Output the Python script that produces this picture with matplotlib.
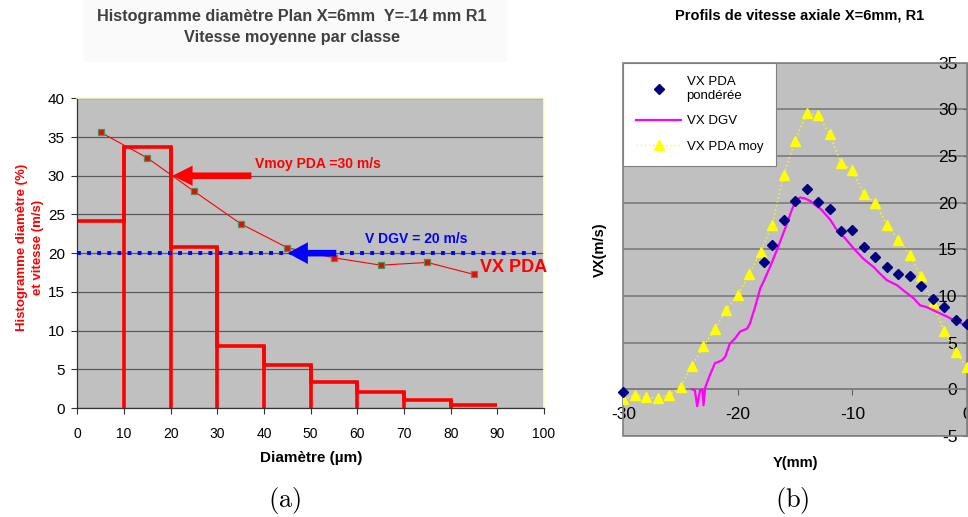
import matplotlib
matplotlib.use("Agg")
import matplotlib.pyplot as plt
from matplotlib.lines import Line2D
from matplotlib.patches import Rectangle

plt.rcParams['font.family'] = ['Liberation Sans', 'DejaVu Sans']
plt.rcParams['mathtext.fontset'] = 'cm'
plt.rcParams['axes.unicode_minus'] = False

# ---- (a) histogram of diameters + mean velocity per class
bin_edges = [0, 10, 20, 30, 40, 50, 60, 70, 80, 90]
hist_pct = [24.2, 33.7, 20.8, 8.0, 5.6, 3.4, 2.1, 1.0, 0.4]
class_centers = [5, 15, 25, 35, 45, 55, 65, 75, 85]
vx_pda_class = [35.6, 32.3, 28.0, 23.8, 20.7, 19.4, 18.45, 18.8, 17.25]
v_dgv_mean = 20
vmoy_pda = 30

# ---- (b) axial velocity profiles
y_pda_pond = [-30, -17.7, -17, -16, -15, -14, -13, -12, -11, -10, -9, -8, -7,
              -6, -5, -4, -3, -2, -1, 0]
vx_pda_pond = [-0.3, 13.6, 15.5, 18.1, 20.2, 21.5, 20.1, 19.3, 17.0, 17.1,
               15.2, 14.2, 13.1, 12.4, 12.1, 11.1, 9.7, 8.8, 7.45, 7.0]
y_pda_moy = [-30, -29, -28, -27, -26, -25, -24, -23, -22, -21, -20, -19, -18,
             -17, -16, -15, -14, -13, -12, -11, -10, -9, -8, -7, -6, -5, -4,
             -3, -2, -1, 0]
vx_pda_moy = [-1.05, -0.6, -0.85, -0.95, -0.6, 0.25, 2.55, 4.6, 6.5, 8.55,
              10.1, 12.35, 14.75, 17.65, 23.0, 26.6, 29.6, 29.4, 27.4, 24.2,
              23.5, 20.9, 20.0, 17.65, 16.05, 14.4, 12.1, 9.2, 6.3, 4.05, 2.35]
y_dgv = [-24.0, -23.75, -23.55, -23.3, -23.1, -23.0, -22.85, -22.45, -22.0,
         -21.4, -21.1, -20.7, -20.25, -19.8, -19.2, -18.95, -18.5, -18.05,
         -17.7, -17.2, -16.6, -16.15, -15.7, -15.3, -14.9, -14.55, -14.15,
         -13.7, -13.25, -12.75, -11.95, -11.35, -10.65, -9.9, -9.05, -8.15,
         -7.6, -7.0, -6.1, -5.55, -4.65, -4.1, -3.5, -2.65, -1.75, -1.05,
         -0.45, 0.0]
vx_dgv = [0.0, -0.1, -1.8, -0.1, 0.0, -1.7, 0.2, 1.5, 2.8, 3.1, 3.5, 4.9,
          5.45, 6.2, 6.5, 7.05, 8.8, 10.8, 11.7, 13.1, 14.9, 16.35, 17.8, 19.2,
          20.3, 20.55, 20.45, 20.2, 19.75, 19.3, 18.2, 17.05, 16.2, 15.1, 14.0,
          13.1, 12.4, 11.7, 11.15, 10.6, 9.75, 9.0, 8.8, 8.3, 7.8, 7.35, 7.05,
          6.5]

W, H = 968, 517
fig = plt.figure(figsize=(W / 100, H / 100), dpi=100)


def fx(px):
    return px / W


def fy(py):
    return 1 - py / H


# ================= panel (a) =================
axa = fig.add_axes([fx(77.3), fy(408), fx(544 - 77.3), (408 - 98.3) / H])
axa.set_facecolor('#c0c0c0')
axa.set_xlim(0, 100)
axa.set_ylim(0, 40)
axa.set_xticks(range(0, 101, 10))
axa.set_yticks(range(0, 41, 5))
axa.grid(axis='y', color='#5a5a5a', lw=0.9)
axa.set_axisbelow(True)
for s in ('top', 'right'):
    axa.spines[s].set_color('#ffffc8')
    axa.spines[s].set_linewidth(1.2)
for s in ('left', 'bottom'):
    axa.spines[s].set_color('#333333')
    axa.spines[s].set_linewidth(0.9)
axa.tick_params(axis='x', length=4, pad=10, labelsize=10, color='#333333')
axa.tick_params(axis='y', length=4, pad=5, labelsize=11, color='#333333')

# histogram outline: tops + interior verticals down to 0
red = '#ff0000'
axa.stairs(hist_pct, bin_edges, color=red, lw=2.6, baseline=None)
inner = bin_edges[1:-1]
vh = [max(hist_pct[i], hist_pct[i + 1]) for i in range(len(inner))]
axa.vlines(inner, 0, vh, color=red, lw=2.6)

# mean velocity per class
axa.plot(class_centers, vx_pda_class, color=red, lw=0.8, marker='s', ms=4,
         mfc=red, mec='#3c9a5a', mew=0.9, zorder=4)

# DGV mean line
axa.axhline(v_dgv_mean, xmin=0, xmax=0.985, color='#0000ff', lw=2.8,
            ls=(0, (1, 1.6)), zorder=3)

# arrows
axa.arrow(37.3, vmoy_pda, 20.4 - 37.3, 0, width=0.85, head_width=2.6,
          head_length=4.3, length_includes_head=True, color=red, lw=0,
          zorder=5)
axa.arrow(55.5, v_dgv_mean, 45.1 - 55.5, 0, width=0.85, head_width=2.8,
          head_length=4.3, length_includes_head=True, color='#0000ff', lw=0,
          zorder=5)
axa.text(38.1, 31.5, 'Vmoy PDA =30 m/s', color=red, fontsize=10,
         fontweight='bold', va='center', ha='left')
axa.text(61.7, 21.8, 'V DGV = 20 m/s', color='#0000ff', fontsize=10,
         fontweight='bold', va='center', ha='left')
axa.text(86.2, 18.2, 'VX PDA', color=red, fontsize=13, fontweight='bold',
         va='center', ha='left')

# title with faint box
fig.patches.append(Rectangle((fx(83), fy(62)), fx(507 - 83), 62 / H,
                             transform=fig.transFigure, facecolor='#fafafa',
                             edgecolor='none', zorder=0))
fig.text(fx(292), fy(27), 'Histogramme diamètre Plan X=6mm  Y=-14 mm R1\n'
         'Vitesse moyenne par classe', ha='center', va='center',
         fontsize=11.7, fontweight='bold', color='#404040', linespacing=1.45)
fig.text(fx(30), fy(247), 'Histogramme diamètre (%)\net vitesse (m/s)',
         rotation=90, ha='center', va='center', color=red, fontsize=9.5,
         fontweight='bold', linespacing=1.5)
fig.text(fx(311), fy(458), 'Diamètre (µm)', ha='center', va='center',
         fontsize=11, fontweight='bold')

# ================= panel (b) =================
axb = fig.add_axes([fx(623.3), fy(436), fx(967 - 623.3), (436 - 62.7) / H])
axb.set_facecolor('#c0c0c0')
axb.set_xlim(-30, 0)
axb.set_ylim(-5, 35)
axb.set_xticks([-30, -20, -10, 0])
axb.set_yticks(range(-5, 36, 5))
axb.grid(axis='y', color='#808080', lw=1.3)
axb.set_axisbelow(True)
for s in ('top', 'right'):
    axb.spines[s].set_visible(False)
axb.spines['bottom'].set_position(('data', 0))
axb.spines['bottom'].set_color('#808080')
axb.spines['bottom'].set_linewidth(1.3)
axb.spines['left'].set_position(('data', 0))
axb.spines['left'].set_color('#808080')
axb.add_patch(Rectangle((0, 0), 1, 1, transform=axb.transAxes, fill=False,
                        edgecolor='#808080', lw=1.2, clip_on=False, zorder=1))
axb.tick_params(axis='x', length=4, pad=9, labelsize=12.5, color='#606060')
axb.tick_params(axis='y', length=3, pad=4, labelsize=12.5, color='#606060')

axb.plot(y_pda_moy, vx_pda_moy, color='#ffff00', lw=1.0, ls=(0, (1, 2)),
         marker='^', ms=7, mec='#ffff00', mfc='#ffff00', zorder=3)
axb.plot(y_dgv, vx_dgv, color='#ff00ff', lw=1.6, zorder=4)
axb.plot(y_pda_pond, vx_pda_pond, ls='none', marker='D', ms=5,
         color='#000080', zorder=5, clip_on=False)

handles = [
    Line2D([], [], ls='none', marker='D', ms=5, color='#000080'),
    Line2D([], [], color='#ff00ff', lw=1.6),
    Line2D([], [], color='#ffff00', lw=1.0, ls=(0, (1, 2)), marker='^', ms=7),
]
leg = axb.legend(handles, ['VX PDA\npondérée', 'VX DGV', 'VX PDA moy'],
                 loc='upper left', bbox_to_anchor=(0, 1), borderaxespad=0,
                 fancybox=False, framealpha=1, edgecolor='#808080',
                 fontsize=9.5, handlelength=3.4, handletextpad=0.4,
                 borderpad=1.0, labelspacing=1.0)
leg.get_frame().set_linewidth(0.8)
leg.set_zorder(10)

fig.text(fx(800), fy(15), 'Profils de vitesse axiale X=6mm, R1', ha='center',
         va='center', fontsize=10.5, fontweight='bold')
fig.text(fx(600), fy(250), 'VX(m/s)', rotation=90, ha='center', va='center',
         fontsize=10.5, fontweight='bold')
fig.text(fx(795.5), fy(463), 'Y(mm)', ha='center', va='center',
         fontsize=10.5, fontweight='bold')

# captions
fig.text(fx(285), fy(500), r'$\mathrm{(a)}$', ha='center', va='center',
         fontsize=19)
fig.text(fx(792), fy(500), r'$\mathrm{(b)}$', ha='center', va='center',
         fontsize=19)

fig.savefig('out.png', dpi=100)
